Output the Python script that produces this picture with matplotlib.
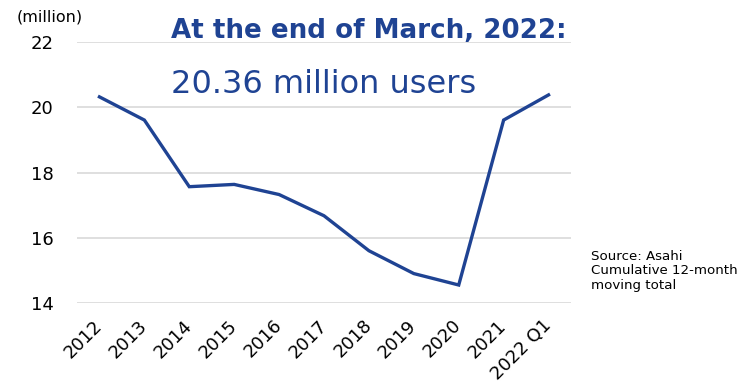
import matplotlib
matplotlib.use("Agg")
import matplotlib.pyplot as plt

categories = ["2012", "2013", "2014", "2015", "2016", "2017", "2018", "2019", "2020", "2021", "2022 Q1"]
users_million = [20.32, 19.61, 17.57, 17.64, 17.33, 16.68, 15.61, 14.91, 14.56, 19.61, 20.38]
yticks = [14, 16, 18, 20, 22]

blue = "#1F4393"
plt.rcParams['font.family'] = ['DejaVu Sans']

fig = plt.figure(figsize=(7.52, 3.87), dpi=100)
ax = fig.add_axes([77/752, 1-303.3/387, (571-77)/752, (303.3-42)/387])

x = list(range(len(categories)))
ax.plot(x, users_million, color=blue, linewidth=2.4, solid_joinstyle='miter', clip_on=False, zorder=3)

ax.set_xlim(-0.5, len(categories) - 0.5)
ax.set_ylim(14, 22)
ax.set_yticks(yticks)
ax.set_yticklabels([str(v) for v in yticks], fontsize=13)
ax.set_xticks(x)
ax.set_xticklabels(categories, rotation=45, ha='right', va='center', rotation_mode='anchor', fontsize=13)
ax.tick_params(axis='both', length=0)
ax.tick_params(axis='y', pad=17)
ax.tick_params(axis='x', pad=14)
ax.grid(axis='y', color='#d9d9d9', linewidth=1.2)
ax.set_axisbelow(True)
for s in ax.spines.values():
    s.set_visible(False)

fig.text(17/752, 1-21/387, "(million)", fontsize=11.5, ha='left', va='baseline')
fig.text(171/752, 1-38/387, "At the end of March, 2022:", fontsize=18.8, fontweight='bold', color=blue, ha='left', va='baseline')
fig.text(171/752, 1-93/387, "20.36 million users", fontsize=23, color=blue, ha='left', va='baseline')
fig.text(591/752, 1-250/387, "Source: Asahi\nCumulative 12-month\nmoving total", fontsize=9.6, ha='left', va='top', linespacing=1.15)

fig.savefig("out.png", dpi=100)
